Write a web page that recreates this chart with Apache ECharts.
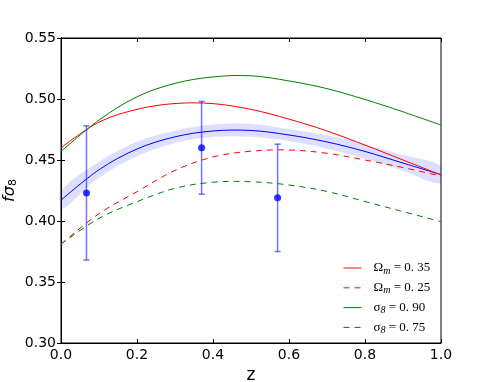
<!DOCTYPE html>
<html>
<head>
    <meta charset="utf-8">
    <title>f sigma8</title>
    <script src="https://cdn.jsdelivr.net/npm/echarts@6/dist/echarts.min.js"></script>
</head>
<body style="margin:0;background-color:#fff;">
    <div id="main" style="width:491px;height:382px;"></div>
    <script type="text/javascript">
        // redshift grid the curves were read on
        var zs = [0, 0.1, 0.2, 0.3, 0.4, 0.5, 0.6, 0.7, 0.8, 0.9, 1.0];

        var fidCurve   = [0.417, 0.442, 0.459, 0.469, 0.4738, 0.4742, 0.4705, 0.4648, 0.457, 0.4475, 0.438];
        var bandLow    = [0.4095, 0.4355, 0.453, 0.464, 0.469, 0.469, 0.4655, 0.4593, 0.451, 0.441, 0.431];
        var bandHigh   = [0.4245, 0.4485, 0.465, 0.474, 0.479, 0.4795, 0.4755, 0.4703, 0.463, 0.454, 0.445];
        var om35       = [0.460, 0.481, 0.4915, 0.4963, 0.4962, 0.4915, 0.4835, 0.4738, 0.4622, 0.450, 0.4377];
        var om25       = [0.381, 0.406, 0.424, 0.4415, 0.4525, 0.4572, 0.4582, 0.4555, 0.450, 0.4438, 0.4368];
        var s890       = [0.457, 0.4827, 0.5018, 0.5128, 0.5181, 0.519, 0.5148, 0.5085, 0.4996, 0.4895, 0.4786];
        var s875       = [0.381, 0.4022, 0.4158, 0.4268, 0.4318, 0.4322, 0.4295, 0.4242, 0.416, 0.4077, 0.3995];

        // measurements: z, value, error
        var obsZ   = [0.067, 0.37, 0.57];
        var obsVal = [0.423, 0.460, 0.419];
        var obsErr = [0.055, 0.038, 0.044];

        var legendNames = ['om35', 'om25', 's890', 's875'];
        var legendText = {
            om35: '{g|Ω}{s|m}{t| = 0. 35}',
            om25: '{g|Ω}{s|m}{t| = 0. 25}',
            s890: '{g|σ}{s|8}{t| = 0. 90}',
            s875: '{g|σ}{s|8}{t| = 0. 75}'
        };
        var legendColor = { om35: '#ff0000', om25: '#ff0000', s890: '#008000', s875: '#008000' };
        var legendDashed = { om35: false, om25: true, s890: false, s875: true };

        var myChart = echarts.init(document.getElementById('main'));

        var tickFont = { fontFamily: 'DejaVu Sans', fontSize: 14, color: '#000' };
        var dash = [6, 5];

        // smooth curve drawn as one polyline through the chart's own coords
        function curveSeries(name, arr, color, dashed) {
            return {
                name: name + '_c',
                type: 'custom',
                data: [0],
                clip: true,
                silent: true,
                renderItem: function (params, api) {
                    var p = zs.map(function (z, i) { return api.coord([z, arr[i]]); });
                    return {
                        type: 'polyline',
                        shape: { points: p, smooth: 0.35 },
                        style: { stroke: color, lineWidth: 1, fill: null, lineDash: dashed ? dash : null }
                    };
                },
                z: 3
            };
        }

        // empty line series, only there to give the legend its keys
        function legendSeries(name) {
            var c = legendColor[name];
            return {
                name: name, type: 'line', data: [], symbol: 'none',
                lineStyle: { color: c, width: 1, type: legendDashed[name] ? dash : 'solid' },
                itemStyle: { color: c }
            };
        }

        var option = {
            backgroundColor: '#fff',
            animation: false,
            grid: {
                left: 61, right: 50, top: 38, bottom: 39,
                outerBoundsMode: 'none',
                show: true, borderColor: '#000', borderWidth: 1
            },
            legend: {
                data: legendNames.map(function (n) {
                    return {
                        name: n,
                        itemStyle: { opacity: 0 },
                        lineStyle: { color: legendColor[n], width: 1, type: legendDashed[n] ? dash : 'solid' }
                    };
                }),
                orient: 'vertical',
                left: 338,
                top: 256.5,
                itemWidth: 18,
                itemHeight: 14,
                itemGap: 5.3,
                formatter: function (n) { return legendText[n]; },
                textStyle: {
                    rich: {
                        g: { fontFamily: 'Liberation Serif', fontSize: 13, color: '#000', padding: [0, 0, 0, 7] },
                        s: { fontFamily: 'Liberation Serif', fontStyle: 'italic', fontSize: 10, color: '#000', verticalAlign: 'bottom', padding: [6, 0, 0, 0] },
                        t: { fontFamily: 'Liberation Serif', fontSize: 13, color: '#000' }
                    }
                }
            },
            xAxis: [{
                type: 'value', min: 0, max: 1, interval: 0.2,
                name: 'z', nameLocation: 'middle', nameGap: 22,
                nameTextStyle: { fontFamily: 'DejaVu Sans', fontSize: 17, color: '#000' },
                axisLine: { lineStyle: { color: '#000' } },
                axisTick: { inside: true, length: 4, lineStyle: { color: '#000' } },
                axisLabel: Object.assign({ margin: 5, formatter: function (v) { return v.toFixed(1); } }, tickFont),
                splitLine: { show: false }
            }, {
                type: 'value', min: 0, max: 1, interval: 0.2, position: 'top',
                axisLine: { lineStyle: { color: '#000' } },
                axisTick: { inside: true, length: 4, lineStyle: { color: '#000' } },
                axisLabel: { show: false },
                splitLine: { show: false }
            }],
            yAxis: [{
                type: 'value', min: 0.30, max: 0.55, interval: 0.05,
                name: '{f|fσ}{s|8}', nameLocation: 'middle', nameGap: 42, nameRotate: 90,
                nameMoveOverlap: false,
                nameTextStyle: {
                    rich: {
                        f: { fontFamily: 'DejaVu Sans', fontStyle: 'italic', fontSize: 16, color: '#000' },
                        s: { fontFamily: 'DejaVu Sans', fontSize: 11, color: '#000', verticalAlign: 'bottom', padding: [8, 0, 0, 0] }
                    }
                },
                axisLine: { lineStyle: { color: '#000' } },
                axisTick: { inside: true, length: 4, lineStyle: { color: '#000' } },
                axisLabel: Object.assign({ margin: 5, formatter: function (v) { return v.toFixed(2); } }, tickFont),
                splitLine: { show: false }
            }, {
                type: 'value', min: 0.30, max: 0.55, interval: 0.05, position: 'right',
                axisLine: { lineStyle: { color: '#000' } },
                axisTick: { inside: true, length: 4, lineStyle: { color: '#000' } },
                axisLabel: { show: false },
                splitLine: { show: false }
            }],
            series: [
                // shaded band around the fiducial curve
                {
                    name: 'band', type: 'custom', clip: true,
                    data: [0],
                    renderItem: function (params, api) {
                        var poly = [];
                        zs.forEach(function (z, i) { poly.push(api.coord([z, bandHigh[i]])); });
                        for (var i = zs.length - 1; i >= 0; i--) poly.push(api.coord([zs[i], bandLow[i]]));
                        return {
                            type: 'polygon',
                            shape: { points: poly, smooth: 0.35 },
                            style: { fill: 'rgba(0,0,255,0.13)', stroke: null }
                        };
                    },
                    silent: true,
                    z: 1
                },
                legendSeries('om35'),
                legendSeries('om25'),
                legendSeries('s890'),
                legendSeries('s875'),
                curveSeries('fid', fidCurve, '#0000ff', false),
                curveSeries('om35', om35, '#ff0000', false),
                curveSeries('om25', om25, '#ff0000', true),
                curveSeries('s890', s890, '#008000', false),
                curveSeries('s875', s875, '#008000', true),
                // error bars
                {
                    name: 'err', type: 'custom',
                    data: obsZ.map(function (z, i) { return [z, obsVal[i] - obsErr[i], obsVal[i] + obsErr[i]]; }),
                    encode: { x: 0, y: [1, 2] },
                    renderItem: function (params, api) {
                        var lo = api.coord([api.value(0), api.value(1)]);
                        var hi = api.coord([api.value(0), api.value(2)]);
                        var st = { stroke: 'rgba(40,40,255,0.65)', lineWidth: 1.5 };
                        return {
                            type: 'group',
                            children: [
                                { type: 'line', shape: { x1: lo[0], y1: lo[1], x2: hi[0], y2: hi[1] }, style: st },
                                { type: 'line', shape: { x1: lo[0] - 3, y1: lo[1], x2: lo[0] + 3, y2: lo[1] }, style: st },
                                { type: 'line', shape: { x1: hi[0] - 3, y1: hi[1], x2: hi[0] + 3, y2: hi[1] }, style: st }
                            ]
                        };
                    },
                    z: 4
                },
                {
                    name: 'obs', type: 'scatter',
                    data: obsZ.map(function (z, i) { return [z, obsVal[i]]; }),
                    symbolSize: 7,
                    itemStyle: { color: '#0000ff' },
                    z: 5
                }
            ]
        };

        myChart.setOption(option);
    </script>
</body>
</html>
